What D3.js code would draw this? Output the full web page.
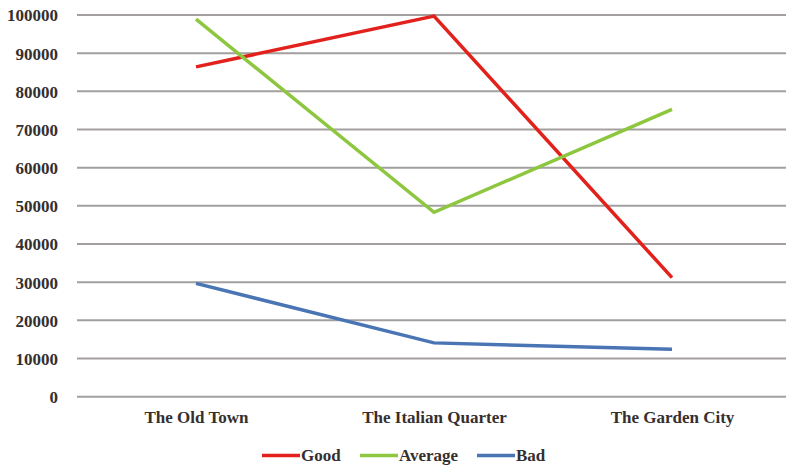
<!DOCTYPE html>
<html>
<head>
<meta charset="utf-8">
<script src="https://cdn.jsdelivr.net/npm/d3@7"></script>
<style>
  html, body { margin: 0; padding: 0; background: #fff; }
  svg { display: block; }
</style>
</head>
<body>
<svg id="chart" width="786" height="466"></svg>
<script>
// Districts along the x axis
const categories = ["The Old Town", "The Italian Quarter", "The Garden City"];

// Ratings per district
const seriesNames = ["Good", "Average", "Bad"];
const goodValues = [86400, 99700, 31200];
const averageValues = [98900, 48300, 75300];
const badValues = [29700, 14100, 12400];

// Y axis ticks
const yTicks = [0, 10000, 20000, 30000, 40000, 50000, 60000, 70000, 80000, 90000, 100000];

const colors = { Good: "#e2211c", Average: "#8dc63f", Bad: "#4a75b5" };
const fontStack = "'Liberation Serif', 'Times New Roman', serif";
const textColor = "#352f2f";

const series = [
  { name: "Good", values: goodValues },
  { name: "Average", values: averageValues },
  { name: "Bad", values: badValues }
];

const svg = d3.select("#chart");
const plotLeft = 77, plotRight = 791, plotTop = 15, plotBottom = 396.7;

const x = d3.scalePoint().domain(categories).range([plotLeft, plotRight]).padding(0.5);
const y = d3.scaleLinear().domain([0, 100000]).range([plotBottom, plotTop]);

function styleText(sel) {
  sel.style("font-family", fontStack)
     .style("font-size", "17px")
     .style("font-weight", "bold")
     .style("fill", textColor);
}

// Horizontal gridlines
svg.append("g")
  .selectAll("line")
  .data(yTicks)
  .join("line")
  .attr("x1", plotLeft).attr("x2", 786)
  .attr("y1", d => y(d)).attr("y2", d => y(d))
  .attr("stroke", "#a39f9f")
  .attr("stroke-width", 2);

// Y axis labels
const yAxis = d3.axisLeft(y).tickValues(yTicks).tickSize(0).tickPadding(0).tickFormat(d3.format("d"));
svg.append("g")
  .attr("transform", `translate(${plotLeft - 19},0)`)
  .call(yAxis)
  .call(g => g.select(".domain").remove())
  .call(g => g.selectAll("text").call(styleText).attr("dy", "0.35em"));

// X axis category labels
const xAxis = d3.axisBottom(x).tickSize(0).tickPadding(0);
svg.append("g")
  .attr("transform", `translate(0,${plotBottom + 14})`)
  .call(xAxis)
  .call(g => g.select(".domain").remove())
  .call(g => g.selectAll("text").call(styleText).attr("dy", "0.71em"));

// Lines
const line = d3.line()
  .x((d, i) => x(categories[i]))
  .y(d => y(d));

svg.append("g")
  .selectAll("path")
  .data(series)
  .join("path")
  .attr("d", d => line(d.values))
  .attr("fill", "none")
  .attr("stroke", d => colors[d.name])
  .attr("stroke-width", 3.5)
  .attr("stroke-linejoin", "miter");

// Legend
const legendItems = [
  { name: "Good", x: 262 },
  { name: "Average", x: 360 },
  { name: "Bad", x: 477 }
];
const legend = svg.append("g").attr("transform", "translate(0,455.5)");
legendItems.forEach(item => {
  legend.append("line")
    .attr("x1", item.x).attr("x2", item.x + 38)
    .attr("y1", 0).attr("y2", 0)
    .attr("stroke", colors[item.name])
    .attr("stroke-width", 3.5);
  legend.append("text")
    .attr("x", item.x + 39)
    .attr("y", 0)
    .attr("dy", "0.35em")
    .call(styleText)
    .text(item.name);
});
</script>
</body>
</html>
